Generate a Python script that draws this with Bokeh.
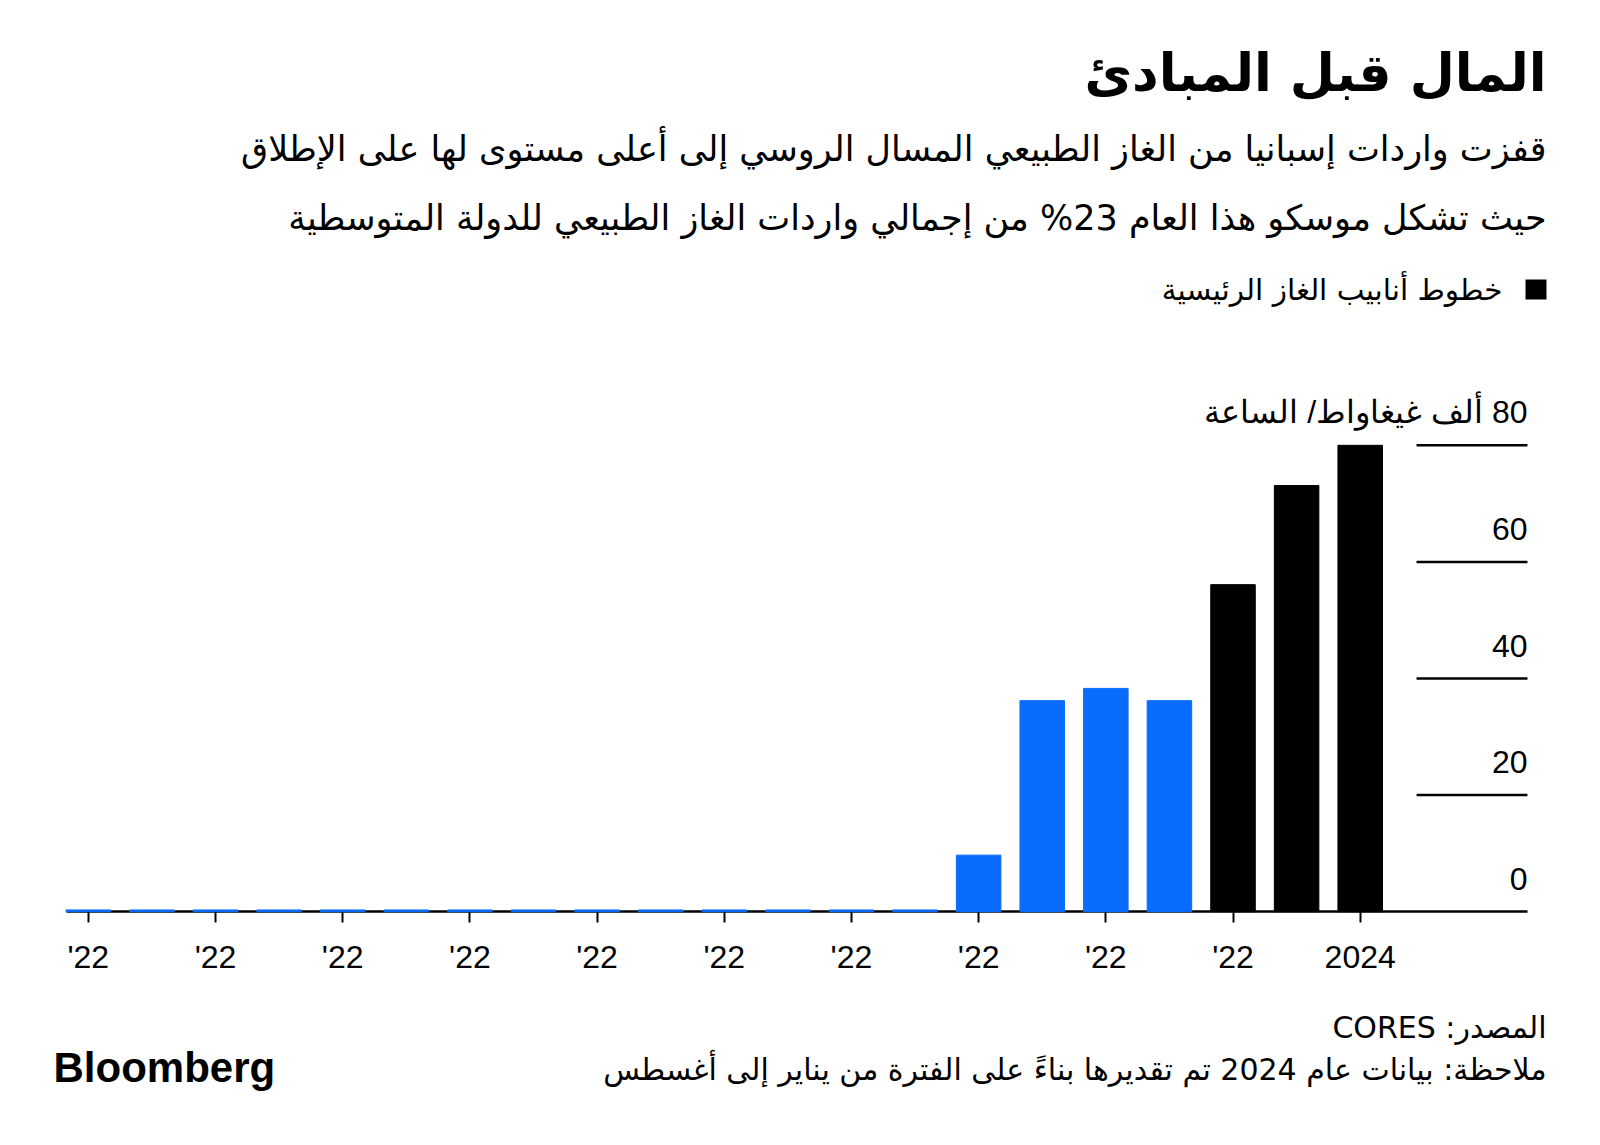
from bokeh.plotting import figure
from bokeh.models import Range1d, FixedTicker, Label, BoxAnnotation, ColumnDataSource
from bokeh.embed import file_html
from bokeh.resources import INLINE

# ---------------- data ----------------
title_text = "المال قبل المبادئ"
subtitle_line1 = "قفزت واردات إسبانيا من الغاز الطبيعي المسال الروسي إلى أعلى مستوى لها على الإطلاق"
subtitle_line2 = "حيث تشكل موسكو هذا العام 23% من إجمالي واردات الغاز الطبيعي للدولة المتوسطية"
legend_label = "خطوط أنابيب الغاز الرئيسية"
unit_label = "ألف غيغاواط/ الساعة"
source_text = "المصدر: CORES"
note_text = "ملاحظة: بيانات عام 2024 تم تقديرها بناءً على الفترة من يناير إلى أغسطس"

bar_positions = [0, 1, 2, 3, 4, 5, 6, 7, 8, 9, 10, 11, 12, 13, 14, 15, 16, 17, 18, 19, 20]
bar_values = [0.3, 0.3, 0.3, 0.3, 0.3, 0.3, 0.3, 0.3, 0.3, 0.3, 0.3, 0.3, 0.3, 0.3,
              9.7, 36.2, 38.3, 36.2, 56.1, 73.1, 80.0]
bar_groups = ["lng", "lng", "lng", "lng", "lng", "lng", "lng", "lng", "lng", "lng",
              "lng", "lng", "lng", "lng", "lng", "lng", "lng", "lng",
              "pipeline", "pipeline", "pipeline"]
tick_positions = [0, 2, 4, 6, 8, 10, 12, 14, 16, 18, 20]
tick_labels = ["'22", "'22", "'22", "'22", "'22", "'22", "'22", "'22", "'22", "'22", "2024"]
y_ticks = [0, 20, 40, 60, 80]

# ---------------- styles ----------------
group_colors = {"lng": "#0a6cff", "pipeline": "#000000"}
AR_FONT = "DejaVu Sans"
NUM_FONT = "Liberation Sans"


def rtl(s):
    return "\u202b" + s + "\u202c"


W, H = 1600, 1140
PX_X = 63.595      # pixels per bar slot
PX_Y = 5.83        # pixels per unit
X0_PAGE = 87.8     # x of first bar centre
Y0_PAGE = 911.2    # y of the baseline (from top)
x_start = -X0_PAGE / PX_X
x_end = (W - X0_PAGE) / PX_X
y_start = -(H - Y0_PAGE) / PX_Y
y_end = Y0_PAGE / PX_Y
axis_lo, axis_hi = -0.343, 22.63

p = figure(width=W, height=H, output_backend="svg", toolbar_location=None,
           x_range=Range1d(x_start, x_end), y_range=Range1d(y_start, y_end),
           y_axis_location=None, min_border_left=0, min_border_right=0,
           min_border_top=0, min_border_bottom=0)
p.outline_line_color = None
p.xgrid.visible = False
p.ygrid.visible = False
p.background_fill_color = "white"
p.border_fill_color = "white"

src = ColumnDataSource(dict(x=bar_positions, top=bar_values,
                            color=[group_colors[g] for g in bar_groups]))

# x axis (fixed at the baseline, inside the frame)
ax = p.xaxis[0]
ax.fixed_location = 0
ax.bounds = (axis_lo, axis_hi)
ax.ticker = FixedTicker(ticks=tick_positions)
ax.major_label_overrides = {t: l for t, l in zip(tick_positions, tick_labels)}
ax.axis_line_color = "black"
ax.axis_line_width = 2.5
ax.major_tick_line_color = "black"
ax.major_tick_line_width = 2
ax.major_tick_out = 11
ax.major_tick_in = 0
ax.minor_tick_line_color = None
ax.major_label_text_font = NUM_FONT
ax.major_label_text_font_size = "32px"
ax.major_label_text_color = "black"
ax.major_label_standoff = 16

p.vbar(x="x", top="top", width=0.7, color="color", source=src, level="overlay")

# short gridlines at the right
grid_start = 20.886
p.segment(x0=[grid_start] * 4, x1=[axis_hi] * 4, y0=y_ticks[1:], y1=y_ticks[1:],
          line_color="black", line_width=2.5)

# y tick labels (above the short gridlines, right aligned)
for v in y_ticks:
    txt = str(v) if v != y_ticks[-1] else rtl(str(v) + " " + unit_label)
    p.add_layout(Label(x=1527, x_units="screen", y=v, y_units="data", y_offset=33,
                       text=txt, text_align="right", text_baseline="middle",
                       text_font=NUM_FONT, text_font_size="32px", text_color="black"))


def add_text(x, y, text, size, bold=False, align="right", font=AR_FONT):
    p.add_layout(Label(x=x, y=y, x_units="screen", y_units="screen", text=text,
                       text_align=align, text_baseline="middle", text_font=font,
                       text_font_size=size, text_font_style="bold" if bold else "normal",
                       text_color="black"))


add_text(1546, 1068, rtl(title_text), "52px", bold=True)
add_text(1546, 992, rtl(subtitle_line1), "35px")
add_text(1546, 923, rtl(subtitle_line2), "35px")
add_text(1502, 851, rtl(legend_label), "29.5px")
p.add_layout(BoxAnnotation(left=1525, right=1546, top=861, bottom=841,
                           left_units="screen", right_units="screen",
                           top_units="screen", bottom_units="screen",
                           fill_color="black", fill_alpha=1.0, line_color=None))

# footer
add_text(1546, 113, rtl(source_text), "30px")
add_text(1546, 71, rtl(note_text), "30px")
add_text(53, 73, "Bloomberg", "42px", bold=True, align="left", font=NUM_FONT)

open("out.html", "w").write(file_html(p, INLINE))
